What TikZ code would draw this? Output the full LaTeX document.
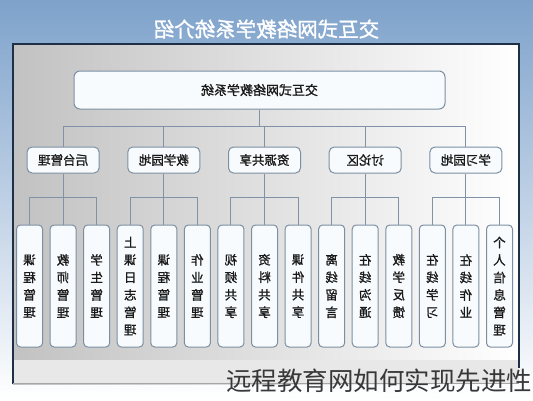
\documentclass[tikz,border=0pt]{standalone}
\usepackage{fontspec}
\setmainfont{Noto Sans CJK SC}
\newfontfamily\heavycjk{Noto Sans CJK SC}[FakeBold=1.2]
\usetikzlibrary{calc}
\definecolor{bgblue}{HTML}{7EA2CB}
\definecolor{frameblue}{HTML}{1E3048}
\definecolor{boxline}{HTML}{7C8FA1}
\definecolor{boxfill}{HTML}{F8FBFD}
\definecolor{linkline}{HTML}{8093A6}

\begin{document}
\begin{tikzpicture}[x=1pt, y=1pt,
box/.style={rectangle, draw=boxline, fill=boxfill, line width=1pt, text=black!90},
rootbox/.style={box, rounded corners=6pt, minimum width=371pt, minimum height=38pt, font=\heavycjk\fontsize{13}{13}\selectfont},
groupbox/.style={box, rounded corners=5pt, minimum width=72pt, minimum height=26pt, font=\heavycjk\fontsize{12.5}{12.5}\selectfont},
leaf/.style={box, rounded corners=4pt, minimum width=26pt, minimum height=122pt, inner sep=0pt, align=center, font=\heavycjk\fontsize{12.5}{17.5}\selectfont},
link/.style={draw=linkline, line width=0.9pt}]
 \useasboundingbox (0,0) rectangle (533,-400);
 \fill[top color=bgblue, bottom color=white] (0,0) rectangle (533,-400);
 % panel
 \fill[left color=black!24, middle color=white, right color=white] (13,-44) rectangle (519,-384);
 \fill[black!9] (13,-360) rectangle (519,-383);
 \draw[frameblue, line width=1.4pt] (13,-384) -- (13,-44) -- (519,-44) -- (519,-368);
 \draw[black!35, line width=0.6pt] (13,-383) -- (519,-383);

 % the chart is mirrored
 \begin{scope}[xshift=533pt, xscale=-1, every node/.append style={transform shape}]
 \node[text=white, font=\heavycjk\fontsize{20.5}{20.5}\selectfont] (title) at (266.5,-29) {交互式网络教学系统介绍};
 \node[rootbox] (system) at (273.5,-90) {交互式网络教学系统};

 \node[leaf] (info) at (33.5,-286) {个\\人\\信\\息\\管\\理};
 \node[leaf, right of=info, node distance=33.57pt] (homework) {在\\线\\作\\业};
 \node[leaf, right of=homework, node distance=33.57pt] (learn) {在\\线\\学\\习};
 \node[leaf, right of=learn, node distance=33.57pt] (feedback) {教\\学\\反\\馈};
 \node[leaf, right of=feedback, node distance=33.57pt] (chat) {在\\线\\沟\\通};
 \node[leaf, right of=chat, node distance=33.57pt] (message) {离\\线\\留\\言};
 \node[leaf, right of=message, node distance=33.57pt] (courseware) {课\\件\\共\\享};
 \node[leaf, right of=courseware, node distance=33.57pt] (material) {资\\料\\共\\享};
 \node[leaf, right of=material, node distance=33.57pt] (video) {视\\频\\共\\享};
 \node[leaf, right of=video, node distance=33.57pt] (task) {作\\业\\管\\理};
 \node[leaf, right of=task, node distance=33.57pt] (lesson) {课\\程\\管\\理};
 \node[leaf, right of=lesson, node distance=33.57pt] (diary) {上\\课\\日\\志\\管\\理};
 \node[leaf, right of=diary, node distance=33.57pt] (student) {学\\生\\管\\理};
 \node[leaf, right of=student, node distance=33.57pt] (teacher) {教\\师\\管\\理};
 \node[leaf, right of=teacher, node distance=33.57pt] (course) {课\\程\\管\\理};

 \node[groupbox, above of=homework, node distance=126pt] (study) {学习园地};
 \node[groupbox, above of=chat, node distance=126pt] (forum) {讨论区};
 \node[groupbox, above of=material, node distance=126pt] (resource) {资源共享};
 \node[groupbox, above of=lesson, node distance=126pt] (teaching) {教学园地};
 \node[groupbox, above of=teacher, node distance=126pt] (backend) {后台管理};

 \coordinate (topbus) at (0,-126);
 \coordinate (subbus) at (0,-197);
 \draw[link] (system.south) -- (system.south |- topbus);
 \draw[link] (study.north) -- (study.north |- topbus) -- (backend.north |- topbus) -- (backend.north);
 \draw[link] (forum.north) -- (forum.north |- topbus);
 \draw[link] (resource.north) -- (resource.north |- topbus);
 \draw[link] (teaching.north) -- (teaching.north |- topbus);

 \draw[link] (study.south) -- (homework.north);
 \draw[link] (info.north) -- (info.north |- subbus) -- (learn.north |- subbus) -- (learn.north);
 \draw[link] (forum.south) -- (chat.north);
 \draw[link] (feedback.north) -- (feedback.north |- subbus) -- (message.north |- subbus) -- (message.north);
 \draw[link] (resource.south) -- (material.north);
 \draw[link] (courseware.north) -- (courseware.north |- subbus) -- (video.north |- subbus) -- (video.north);
 \draw[link] (teaching.south) -- (lesson.north);
 \draw[link] (task.north) -- (task.north |- subbus) -- (diary.north |- subbus) -- (diary.north);
 \draw[link] (backend.south) -- (teacher.north);
 \draw[link] (student.north) -- (student.north |- subbus) -- (course.north |- subbus) -- (course.north);
 \end{scope}

 \node[text=black!78, font=\fontsize{25.5}{25.5}\selectfont] (caption) at (379,-381) {远程教育网如何实现先进性};
\end{tikzpicture}
\end{document}
